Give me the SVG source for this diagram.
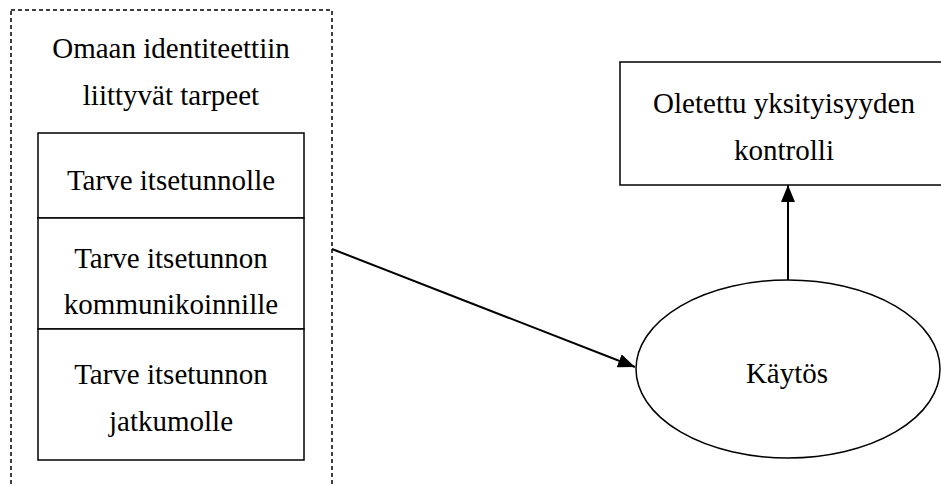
<svg xmlns="http://www.w3.org/2000/svg" width="941" height="486" viewBox="0 0 941 486">
  <style>
    .lbl { font-family: "Liberation Serif", "Times New Roman", serif; font-size: 29px; fill: #000; text-anchor: middle; }
    .box { fill: #fff; stroke: #000; stroke-width: 1.5; }
    .group { fill: none; stroke: #000; stroke-width: 1.5; stroke-dasharray: 4 3; }
    .edge { fill: none; stroke: #000; stroke-width: 2; }
  </style>
  <defs>
    <marker id="arrow" markerWidth="17" markerHeight="14" refX="17" refY="7" orient="auto" markerUnits="userSpaceOnUse">
      <path d="M0,0 L17,7 L0,14 Z" fill="#000"/>
    </marker>
  </defs>
  <rect width="941" height="486" fill="#fff"/>

  <!-- Dashed container: identity-related needs -->
  <g id="identity-needs">
    <rect class="group" x="11" y="10" width="321" height="490"/>
    <text class="lbl" x="171" y="58">Omaan identiteettiin</text>
    <text class="lbl" x="171" y="105">liittyvät tarpeet</text>
  </g>

  <g id="need-self-esteem">
    <rect class="box" x="38" y="133" width="266" height="85"/>
    <text class="lbl" x="171" y="190">Tarve itsetunnolle</text>
  </g>

  <g id="need-communication">
    <rect class="box" x="38" y="218" width="266" height="111"/>
    <text class="lbl" x="171" y="268">Tarve itsetunnon</text>
    <text class="lbl" x="171" y="314">kommunikoinnille</text>
  </g>

  <g id="need-continuity">
    <rect class="box" x="38" y="329" width="266" height="131"/>
    <text class="lbl" x="171" y="384">Tarve itsetunnon</text>
    <text class="lbl" x="171" y="431">jatkumolle</text>
  </g>

  <g id="privacy-control">
    <rect class="box" x="620" y="62" width="330" height="123"/>
    <text class="lbl" x="784" y="113">Oletettu yksityisyyden</text>
    <text class="lbl" x="784" y="160">kontrolli</text>
  </g>

  <g id="behaviour">
    <ellipse class="box" cx="788" cy="369" rx="152" ry="89"/>
    <text class="lbl" x="787" y="383">Käytös</text>
  </g>

  <!-- Connectors -->
  <g id="connectors">
    <line class="edge" x1="332" y1="249" x2="635" y2="367" marker-end="url(#arrow)"/>
    <line class="edge" x1="788" y1="280" x2="788" y2="185" marker-end="url(#arrow)"/>
  </g>
</svg>
